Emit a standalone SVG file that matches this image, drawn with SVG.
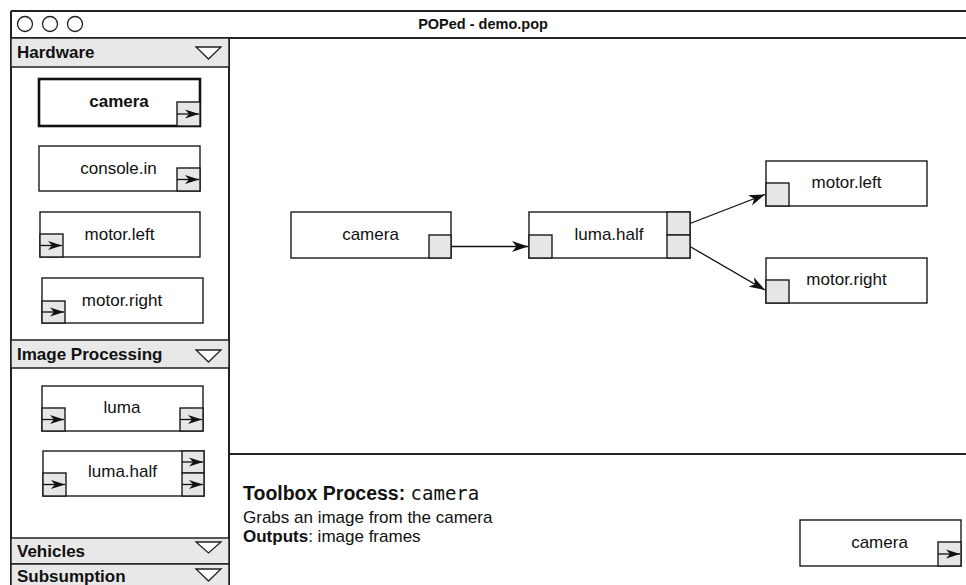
<svg xmlns="http://www.w3.org/2000/svg" width="966" height="585" viewBox="0 0 966 585">
<style>
.frame{stroke:#222;stroke-width:2;fill:none}
.hdr{fill:#e8e8e8;stroke:#222;stroke-width:1.5}
.tri{fill:#fff;stroke:#222;stroke-width:1.3}
.box{fill:#fff;stroke:#1a1a1a;stroke-width:1.4}
.sel{fill:#fff;stroke:#111;stroke-width:2.6}
.port{fill:#e6e6e6;stroke:#1a1a1a;stroke-width:1.4}
.parr{stroke:#111;stroke-width:1.3;fill:none;marker-end:url(#ahs)}
.conn{stroke:#111;stroke-width:1.3;fill:none;marker-end:url(#ah)}
.hd{font-family:"Liberation Sans",Arial,sans-serif;font-weight:bold;font-size:17px;fill:#111}
.lbl{font-family:"Liberation Sans",Arial,sans-serif;font-size:17px;fill:#111;text-anchor:middle}
.txt{font-family:"Liberation Sans",Arial,sans-serif;font-size:17px;fill:#111}
</style>
<defs>
<marker id="ah" markerWidth="16" markerHeight="12" refX="16" refY="6" orient="auto" markerUnits="userSpaceOnUse"><path d="M0,0.5 L16,6 L0,11.5 L4.5,6 Z" fill="#111"/></marker>
<marker id="ahs" markerWidth="14" markerHeight="10" refX="14" refY="5" orient="auto" markerUnits="userSpaceOnUse"><path d="M0,0.5 L14,5 L0,9.5 L4,5 Z" fill="#111"/></marker>
</defs>
<rect x="0" y="0" width="966" height="585" fill="#fff"/>

<g id="window">
<line class="frame" x1="11" y1="11" x2="966" y2="11"/>
<line class="frame" x1="11" y1="11" x2="11" y2="585"/>
<line class="frame" x1="11" y1="38" x2="966" y2="38"/>
<circle cx="25" cy="24" r="7.5" fill="#fff" stroke="#222" stroke-width="1.3"/>
<circle cx="50" cy="24" r="7.5" fill="#fff" stroke="#222" stroke-width="1.3"/>
<circle cx="75" cy="24" r="7.5" fill="#fff" stroke="#222" stroke-width="1.3"/>
<text x="483" y="29" text-anchor="middle" style="font-family:'Liberation Sans',Arial,sans-serif;font-weight:bold;font-size:14.5px;fill:#111">POPed - demo.pop</text>
<line class="frame" x1="229" y1="38" x2="229" y2="585"/>
<line class="frame" x1="229" y1="454" x2="966" y2="454"/>
</g>

<g id="hdr-hardware">
<rect class="hdr" x="11" y="38" width="218" height="29"/>
<text class="hd" x="17" y="58">Hardware</text>
<polygon class="tri" points="196,47 221,47 208.5,59"/>
</g>

<g id="tb-camera">
<rect class="sel" x="39" y="79" width="161" height="47"/>
<rect class="port" x="177" y="102" width="23" height="24"/>
<line class="parr" x1="177" y1="114" x2="199" y2="114"/>
<text x="119" y="107" text-anchor="middle" style="font-family:'Liberation Sans',Arial,sans-serif;font-weight:bold;font-size:17px;fill:#111">camera</text>
</g>

<g id="tb-console-in">
<rect class="box" x="39" y="146" width="161" height="45"/>
<rect class="port" x="177" y="168" width="23" height="23"/>
<line class="parr" x1="177" y1="179.5" x2="199" y2="179.5"/>
<text class="lbl" x="118.5" y="174">console.in</text>
</g>

<g id="tb-motor-left">
<rect class="box" x="40" y="212" width="160" height="45"/>
<rect class="port" x="40" y="234" width="23" height="23"/>
<line class="parr" x1="40" y1="245.5" x2="62" y2="245.5"/>
<text class="lbl" x="119.5" y="239.5">motor.left</text>
</g>

<g id="tb-motor-right">
<rect class="box" x="42" y="278" width="161" height="45"/>
<rect class="port" x="42" y="301" width="23" height="22"/>
<line class="parr" x1="42" y1="312" x2="64" y2="312"/>
<text class="lbl" x="122" y="305.5">motor.right</text>
</g>

<g id="hdr-image-processing">
<rect class="hdr" x="11" y="340" width="218" height="28"/>
<text class="hd" x="17" y="360">Image Processing</text>
<polygon class="tri" points="196,350 221,350 208.5,362"/>
</g>

<g id="tb-luma">
<rect class="box" x="42" y="386" width="161" height="45"/>
<rect class="port" x="42" y="408" width="23" height="23"/>
<line class="parr" x1="42" y1="419.5" x2="64" y2="419.5"/>
<rect class="port" x="180" y="408" width="23" height="23"/>
<line class="parr" x1="180" y1="419.5" x2="202" y2="419.5"/>
<text class="lbl" x="122" y="412.5">luma</text>
</g>

<g id="tb-luma-half">
<rect class="box" x="43" y="451" width="161" height="45"/>
<rect class="port" x="43" y="473" width="23" height="23"/>
<line class="parr" x1="43" y1="484.5" x2="65" y2="484.5"/>
<rect class="port" x="182" y="451" width="22" height="22"/>
<line class="parr" x1="182" y1="462" x2="203" y2="462"/>
<rect class="port" x="182" y="473" width="22" height="23"/>
<line class="parr" x1="182" y1="484.5" x2="203" y2="484.5"/>
<text class="lbl" x="122.5" y="477">luma.half</text>
</g>

<g id="hdr-vehicles">
<rect class="hdr" x="11" y="538" width="218" height="26"/>
<text class="hd" x="17" y="557">Vehicles</text>
<polygon class="tri" points="196,542 221,542 208.5,553"/>
</g>

<g id="hdr-subsumption">
<rect class="hdr" x="11" y="564" width="218" height="24"/>
<text class="hd" x="17" y="582">Subsumption</text>
<polygon class="tri" points="196,569 221,569 208.5,581"/>
</g>

<g id="connectors">
<line class="conn" x1="451" y1="246.5" x2="528" y2="246.5"/>
<line class="conn" x1="690" y1="223.5" x2="765" y2="194.5"/>
<line class="conn" x1="690" y1="246.5" x2="765" y2="290"/>
</g>

<g id="n-camera">
<rect class="box" x="291" y="212" width="160" height="46"/>
<rect class="port" x="429" y="235" width="22" height="23"/>
<text class="lbl" x="370.5" y="239.5">camera</text>
</g>

<g id="n-luma-half">
<rect class="box" x="529" y="212" width="161" height="46"/>
<rect class="port" x="529" y="235" width="23" height="23"/>
<rect class="port" x="667" y="212" width="23" height="23"/>
<rect class="port" x="667" y="235" width="23" height="23"/>
<text class="lbl" x="609" y="239.5">luma.half</text>
</g>

<g id="n-motor-left">
<rect class="box" x="766" y="161" width="161" height="45"/>
<rect class="port" x="766" y="183" width="23" height="23"/>
<text class="lbl" x="846.5" y="188">motor.left</text>
</g>

<g id="n-motor-right">
<rect class="box" x="766" y="258" width="161" height="45"/>
<rect class="port" x="766" y="280" width="23" height="23"/>
<text class="lbl" x="846.5" y="285">motor.right</text>
</g>

<g id="info">
<text x="243" y="500" style="font-family:'Liberation Sans',Arial,sans-serif;font-size:19.5px;fill:#111"><tspan font-weight="bold">Toolbox Process: </tspan><tspan style="font-family:'DejaVu Sans Mono','Liberation Mono',monospace;font-size:19px">camera</tspan></text>
<text class="txt" x="243" y="523">Grabs an image from the camera</text>
<text class="txt" x="243" y="542"><tspan font-weight="bold">Outputs</tspan>: image frames</text>
</g>

<g id="preview-camera">
<rect class="box" x="800" y="520" width="161" height="46"/>
<rect class="port" x="938" y="542" width="23" height="24"/>
<line class="parr" x1="938" y1="554" x2="960" y2="554"/>
<text class="lbl" x="879.5" y="548">camera</text>
</g>
</svg>
